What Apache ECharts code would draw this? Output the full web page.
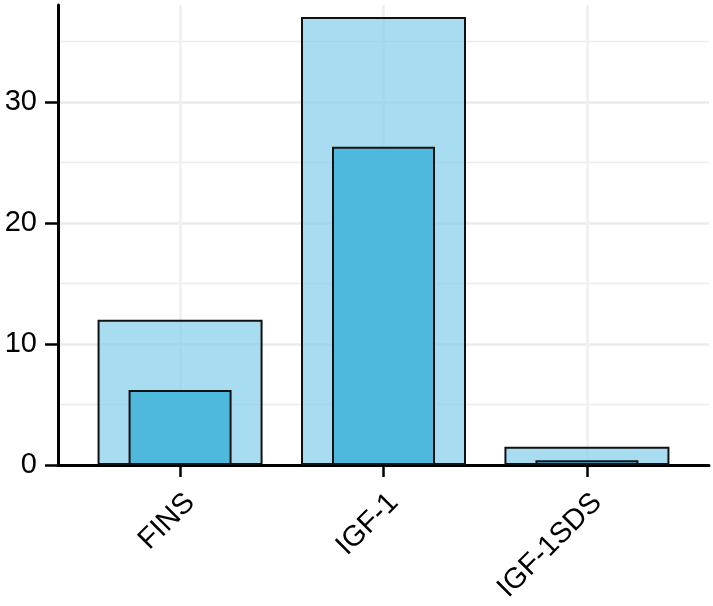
<!DOCTYPE html>
<html><head><meta charset="utf-8">
<script src="https://cdn.jsdelivr.net/npm/echarts@6/dist/echarts.min.js"></script>
<style>html,body{margin:0;padding:0;background:#fff}#c{width:713px;height:606px}</style>
</head><body><div id="c"></div>
<script>
const categories = ['FINS', 'IGF-1', 'IGF-1SDS'];
const outerValues = [12.0, 37.0, 1.5];
const innerValues = [6.2, 26.3, 0.4];
const yTickLabels = [0, 10, 20, 30];
const categoryPositions = [1, 2, 3];

const FONT = 'Liberation Sans, Arial, sans-serif';
const T = 'rgba(0,0,0,0)';
const chart = echarts.init(document.getElementById('c'), null, {renderer: 'canvas'});

chart.setOption({
  animation: false,
  backgroundColor: '#ffffff',
  grid: {left: 58, right: 4, top: 5, bottom: 141, containLabel: false},
  xAxis: [{
    type: 'value', min: 0.4, max: 3.6,
    axisLine: {show: true, onZero: false, lineStyle: {color: '#000', width: 3}},
    axisTick: {show: true, customValues: categoryPositions, length: 12, lineStyle: {color: '#000', width: 2.5}},
    axisLabel: {customValues: categoryPositions, formatter: v => categories[Math.round(v) - 1],
      rotate: 45, fontSize: 29, color: '#000', fontFamily: FONT, margin: 23,
      align: 'right', verticalAlign: 'top'},
    splitLine: {show: true, lineStyle: {color: '#efefef', width: 2.5}}
  }, {
    type: 'value', min: 0.4, max: 3.6, show: false
  }],
  yAxis: [{
    type: 'value', min: 0, max: 38, interval: 10,
    axisLine: {show: true, onZero: false, lineStyle: {color: '#000', width: 3}},
    axisTick: {show: true, customValues: yTickLabels, length: 13, lineStyle: {color: '#000', width: 2.5}},
    axisLabel: {customValues: yTickLabels, fontSize: 29, color: '#000', fontFamily: FONT, margin: 21},
    splitLine: {show: true, lineStyle: {color: ['#ebebeb', '#ebebeb', '#ebebeb', '#ebebeb', T], width: 2.5}}
  }, {
    type: 'value', min: 0, max: 38, interval: 5, position: 'left',
    axisLine: {show: false}, axisTick: {show: false}, axisLabel: {show: false},
    splitLine: {show: true, lineStyle: {color: [T, '#ececec', T, '#ececec', T, '#ececec', T, '#ececec', T], width: 1.3}}
  }],
  series: [{
    type: 'bar', xAxisIndex: 0, yAxisIndex: 0,
    data: outerValues.map((v, i) => [categoryPositions[i], v]),
    barWidth: 165,
    itemStyle: {color: 'rgba(135,206,235,0.72)', borderColor: '#111', borderWidth: 2}
  }, {
    type: 'bar', xAxisIndex: 1, yAxisIndex: 0,
    data: innerValues.map((v, i) => [categoryPositions[i], v]),
    barWidth: 103,
    itemStyle: {color: '#4fb9dd', borderColor: '#111', borderWidth: 2}
  }]
});
</script>
</body></html>
